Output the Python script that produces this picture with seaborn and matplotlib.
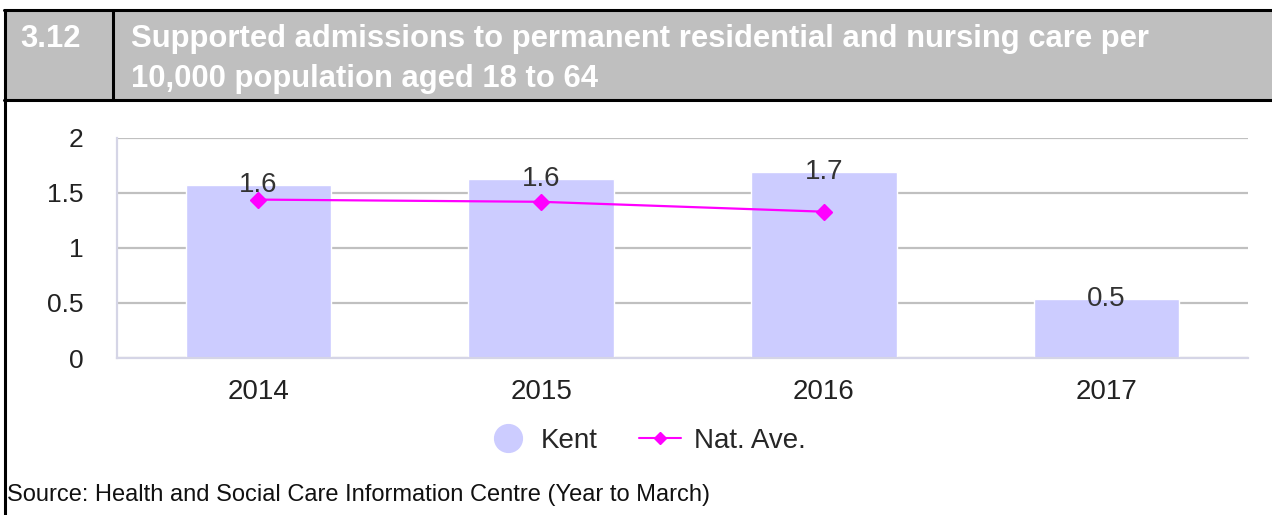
import numpy as np
import pandas as pd
import matplotlib
matplotlib.use("Agg")
import matplotlib.pyplot as plt
from matplotlib.lines import Line2D
from matplotlib.patches import Rectangle
import seaborn as sns

# Data
years = ["2014", "2015", "2016", "2017"]
kent = [1.57, 1.63, 1.69, 0.54]
nat_ave = [1.44, 1.42, 1.33, np.nan]

sns.set_style("white")
plt.rcParams["font.family"] = ["Liberation Sans", "DejaVu Sans"]

W, H = 1272, 515
fig = plt.figure(figsize=(W / 100, H / 100), dpi=100)


def fx(px):
    return px / W


def fy(py):
    return 1 - py / H


# Header band with section number and title
fig.patches.append(Rectangle((fx(5), fy(100)), 1 - fx(5), fy(10) - fy(100),
                             transform=fig.transFigure, facecolor="#BFBFBF",
                             edgecolor="none", zorder=0))
border = dict(transform=fig.transFigure, color="black", lw=2.2, zorder=1)
fig.lines.append(Line2D([fx(4), 1], [fy(10), fy(10)], **border))
fig.lines.append(Line2D([fx(4), 1], [fy(100), fy(100)], **border))
fig.lines.append(Line2D([fx(5), fx(5)], [fy(10), 0], **border))
fig.lines.append(Line2D([fx(113), fx(113)], [fy(10), fy(100)], **border))

title_kw = dict(color="white", fontsize=22.3, fontweight="bold", va="baseline")
fig.text(fx(20), fy(47), "3.12", **title_kw)
fig.text(fx(131), fy(47), "Supported admissions to permanent residential and nursing care per", **title_kw)
fig.text(fx(131), fy(87), "10,000 population aged 18 to 64", **title_kw)

# Chart
ax = fig.add_axes([fx(117), fy(358), fx(1248) - fx(117), fy(138) - fy(358)])
df = pd.DataFrame({"year": years, "kent": kent, "nat": nat_ave})

sns.barplot(data=df, x="year", y="kent", color="#CCCCFF", saturation=1,
            width=0.515, errorbar=None, ax=ax, zorder=2)
idx = np.arange(len(years))
ax.plot(idx, df["nat"], color="#FF00FF", lw=1.6, marker="D", markersize=8,
        zorder=3)

for i, v in enumerate(kent):
    ax.text(i, v, f"{v:.1f}", ha="center", va="center", fontsize=20,
            color="#333333", zorder=4)

ax.set_ylim(0, 2)
ax.set_xlim(-0.5, len(years) - 0.5)
ax.set_yticks([0, 0.5, 1, 1.5, 2])
ax.set_yticklabels(["0", "0.5", "1", "1.5", "2"])
ax.set_xticks(np.arange(-0.5, len(years), 1), minor=True)
ax.set_axisbelow(True)
ax.yaxis.grid(True, color="#C0C0C0", lw=1.6)
ax.xaxis.grid(False)

axis_col = "#D5D5E6"
for s in ["top", "right"]:
    ax.spines[s].set_visible(False)
ax.spines["bottom"].set_color(axis_col)
ax.spines["bottom"].set_linewidth(1.6)
ax.spines["left"].set_color(axis_col)
ax.spines["left"].set_linewidth(1.6)

ax.tick_params(axis="y", length=0, pad=24, labelsize=19, labelcolor="#222222")
ax.tick_params(axis="x", which="major", length=0, pad=15, labelsize=20,
               labelcolor="#222222")
ax.tick_params(axis="x", which="minor", length=14, width=1.6, color=axis_col,
               direction="out")
ax.set_xlabel("")
ax.set_ylabel("")

handles = [
    Line2D([], [], ls="", marker="o", markersize=20, color="#CCCCFF"),
    Line2D([], [], color="#FF00FF", lw=1.5, marker="D", markersize=6),
]
fig.legend(handles, ["Kent", "Nat. Ave."], loc="center",
           bbox_to_anchor=(fx(646), fy(441)), ncol=2, frameon=False,
           fontsize=20, handlelength=1.5, handletextpad=0.45, columnspacing=1.5)

fig.text(fx(7), fy(495), "Source: Health and Social Care Information Centre (Year to March)",
         fontsize=17, color="#111111", va="center", ha="left")

fig.savefig("out.png", dpi=100)
